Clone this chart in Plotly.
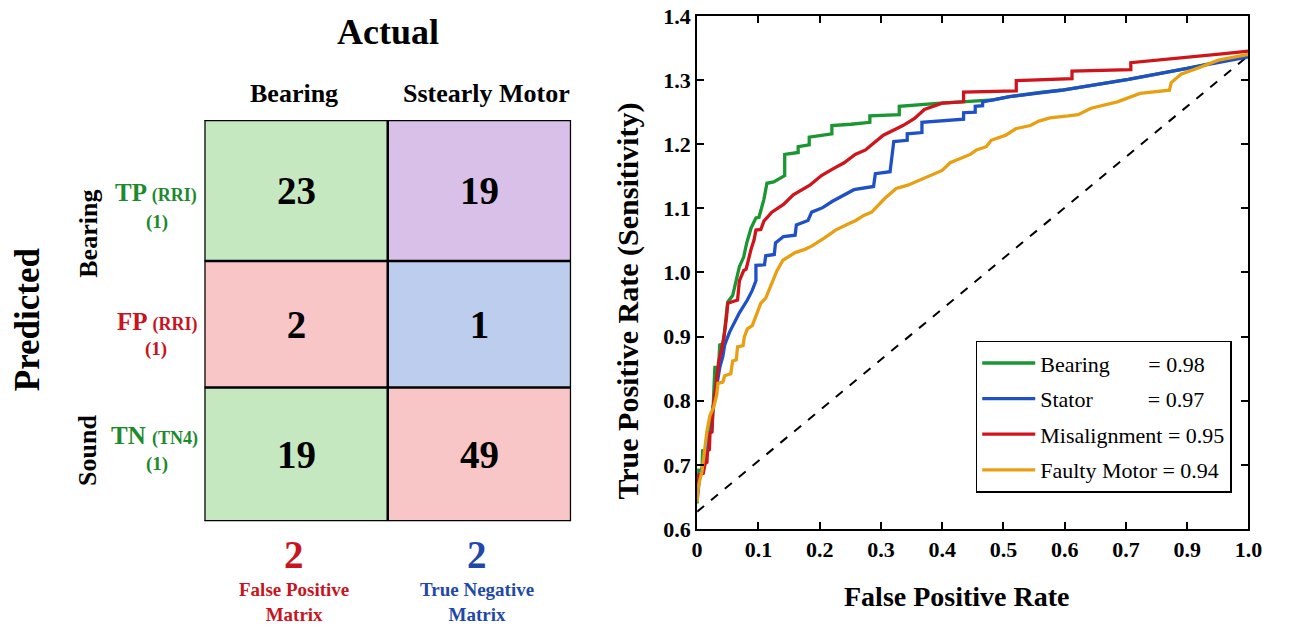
import plotly.graph_objects as go

# ---------------- data ----------------
# Confusion matrix (rows: predicted, cols: actual)
actual_labels = ["Bearing", "Sstearly Motor"]
row_labels = ["Bearing", "Sound"]
cell_counts = [[23, 19], [2, 1], [19, 49]]
cell_kind = [[0, 1], [2, 3], [0, 2]]   # 0 green, 1 purple, 2 pink, 3 blue
bottom_numbers = ["2", "2"]
bottom_captions = ["False Positive<br>Matrix", "True Negative<br>Matrix"]

# ROC curves (x in tick-position units: ticks 0..0.9 labelled 0..0.7,0.9,1.0)
x_ticktext = ["0", "0.1", "0.2", "0.3", "0.4", "0.5", "0.6", "0.7", "0.9", "1.0"]
x_tickvals = [0.0, 0.1, 0.2, 0.3, 0.4, 0.5, 0.6, 0.7, 0.8, 0.9]
y_tickvals = [0.6, 0.7, 0.8, 0.9, 1.0, 1.1, 1.2, 1.3, 1.4]

bearing_x = [0, 0.001, 0.008, 0.009, 0.015, 0.019, 0.026, 0.029, 0.035, 0.037, 0.042, 0.044,
             0.048, 0.050, 0.058, 0.064, 0.069, 0.076, 0.081, 0.088, 0.096, 0.101, 0.109, 0.114,
             0.125, 0.143, 0.143, 0.165, 0.165, 0.183, 0.183, 0.220, 0.220, 0.251, 0.282, 0.282,
             0.330, 0.330, 0.398, 0.484, 0.510, 0.563, 0.594, 0.704, 0.800, 0.900]
bearing_y = [0.640, 0.692, 0.692, 0.722, 0.724, 0.752, 0.787, 0.852, 0.852, 0.887, 0.889, 0.902,
             0.937, 0.954, 0.964, 0.987, 1.009, 1.024, 1.046, 1.069, 1.085, 1.086, 1.114, 1.139,
             1.141, 1.151, 1.184, 1.187, 1.196, 1.199, 1.211, 1.216, 1.229, 1.231, 1.234, 1.244,
             1.246, 1.259, 1.264, 1.269, 1.274, 1.281, 1.284, 1.301, 1.318, 1.338]

stator_x = [0, 0.004, 0.010, 0.016, 0.020, 0.024, 0.026, 0.032, 0.037, 0.042, 0.045, 0.053,
            0.061, 0.069, 0.082, 0.090, 0.096, 0.096, 0.110, 0.112, 0.126, 0.128, 0.141, 0.160,
            0.162, 0.181, 0.187, 0.205, 0.221, 0.240, 0.256, 0.288, 0.291, 0.315, 0.321, 0.343,
            0.343, 0.367, 0.367, 0.435, 0.435, 0.454, 0.454, 0.466, 0.466, 0.510, 0.563, 0.594,
            0.704, 0.800, 0.900]
stator_y = [0.645, 0.680, 0.700, 0.720, 0.750, 0.752, 0.789, 0.822, 0.852, 0.869, 0.887, 0.907,
            0.922, 0.937, 0.957, 0.972, 0.987, 1.011, 1.012, 1.026, 1.028, 1.046, 1.056, 1.058,
            1.074, 1.081, 1.094, 1.101, 1.111, 1.121, 1.129, 1.134, 1.154, 1.157, 1.204, 1.206,
            1.216, 1.218, 1.234, 1.239, 1.249, 1.250, 1.259, 1.260, 1.266, 1.274, 1.281, 1.284,
            1.301, 1.318, 1.336]

misalign_x = [0, 0.002, 0.010, 0.013, 0.016, 0.017, 0.020, 0.021, 0.024, 0.026, 0.030, 0.035,
              0.040, 0.044, 0.048, 0.050, 0.066, 0.069, 0.076, 0.080, 0.088, 0.093, 0.096, 0.104,
              0.109, 0.114, 0.122, 0.141, 0.157, 0.184, 0.203, 0.221, 0.240, 0.258, 0.275, 0.285,
              0.304, 0.336, 0.355, 0.371, 0.400, 0.435, 0.435, 0.521, 0.521, 0.612, 0.612, 0.708,
              0.708, 0.861, 0.900]
misalign_y = [0.650, 0.684, 0.687, 0.702, 0.704, 0.722, 0.724, 0.749, 0.751, 0.789, 0.817, 0.860,
              0.880, 0.900, 0.930, 0.952, 0.957, 0.987, 1.003, 1.005, 1.036, 1.051, 1.066, 1.067,
              1.080, 1.086, 1.094, 1.106, 1.121, 1.136, 1.151, 1.161, 1.171, 1.184, 1.191, 1.199,
              1.214, 1.229, 1.240, 1.254, 1.264, 1.266, 1.281, 1.283, 1.299, 1.302, 1.314, 1.316,
              1.327, 1.341, 1.345]

faulty_x = [0, 0.002, 0.008, 0.012, 0.016, 0.021, 0.027, 0.032, 0.034, 0.042, 0.045, 0.055,
            0.058, 0.064, 0.066, 0.075, 0.077, 0.082, 0.090, 0.098, 0.104, 0.112, 0.118, 0.124,
            0.130, 0.140, 0.160, 0.176, 0.187, 0.208, 0.226, 0.243, 0.259, 0.272, 0.285, 0.307,
            0.325, 0.344, 0.368, 0.400, 0.413, 0.446, 0.456, 0.472, 0.480, 0.504, 0.520, 0.544,
            0.558, 0.576, 0.606, 0.622, 0.643, 0.686, 0.723, 0.771, 0.774, 0.790, 0.819, 0.851,
            0.900]
faulty_y = [0.642, 0.667, 0.690, 0.720, 0.752, 0.777, 0.790, 0.809, 0.827, 0.829, 0.839, 0.842,
            0.862, 0.864, 0.884, 0.886, 0.899, 0.912, 0.917, 0.937, 0.952, 0.960, 0.975, 0.990,
            1.002, 1.019, 1.031, 1.036, 1.041, 1.054, 1.066, 1.074, 1.081, 1.089, 1.094, 1.116,
            1.131, 1.136, 1.146, 1.159, 1.171, 1.184, 1.191, 1.196, 1.206, 1.214, 1.224, 1.229,
            1.236, 1.241, 1.244, 1.246, 1.256, 1.266, 1.279, 1.284, 1.296, 1.309, 1.319, 1.331,
            1.340]

diag_x = [0.0, 0.9]
diag_y = [0.627, 1.338]

series_names = ["Bearing", "Stator", "Misalignment", "Faulty Motor"]
series_auc = ["0.98", "0.97", "0.95", "0.94"]

# ---------------- style ----------------
W, H = 1290, 642
SERIF = "Liberation Serif"
C_GREEN_TXT = "#1e8a2e"
C_RED_TXT = "#c8141e"
C_BLUE_TXT = "#1f48a8"
CELL_COLORS = ["#c6e8c0", "#d9c0e8", "#f8c6c6", "#bccdee"]
LINE_COLORS = ["#1a9632", "#1f50c8", "#d0141c", "#e8a012"]
NBSP = "\u00a0"
name_pad = [7, 10, 1, 1]

def px(x):
    return x / W

def py(y):
    return 1 - y / H

ROW_EDGES = [0, 1.054, 2.0, 3.0]
COL_EDGES = [0, 1, 2]

fig = go.Figure()

# ---------------- confusion matrix ----------------
fig.add_trace(go.Heatmap(
    z=cell_kind, x=COL_EDGES, y=ROW_EDGES,
    text=cell_counts, texttemplate="<b>%{text}</b>",
    textfont=dict(family=SERIF, size=39, color="black"),
    colorscale=[[0, CELL_COLORS[0]], [1 / 3, CELL_COLORS[1]], [2 / 3, CELL_COLORS[2]], [1, CELL_COLORS[3]]],
    zmin=0, zmax=3, showscale=False, hoverinfo="skip",
    xaxis="x2", yaxis="y2",
))

shapes = []
for xe in COL_EDGES:
    shapes.append(dict(type="line", xref="x2", yref="y2", x0=xe, x1=xe, y0=ROW_EDGES[0], y1=ROW_EDGES[-1],
                       line=dict(color="black", width=2.5)))
for ye in ROW_EDGES:
    shapes.append(dict(type="line", xref="x2", yref="y2", x0=COL_EDGES[0], x1=COL_EDGES[-1], y0=ye, y1=ye,
                       line=dict(color="black", width=2.5)))

# ---------------- ROC curves ----------------
fig.add_trace(go.Scatter(x=diag_x, y=diag_y, mode="lines", showlegend=False,
                         line=dict(color="black", width=2, dash="dash"), hoverinfo="skip"))
curves = [(bearing_x, bearing_y), (stator_x, stator_y), (misalign_x, misalign_y), (faulty_x, faulty_y)]
for i, (cx, cy) in enumerate(curves):
    label = series_names[i] + NBSP * name_pad[i] + "= " + series_auc[i]
    fig.add_trace(go.Scatter(x=cx, y=cy, mode="lines", name=label, legendgroup=f"g{i}",
                             line=dict(color=LINE_COLORS[i], width=3.3)))

# ---------------- annotations ----------------
ann = []

def add_text(text, x, y, size, color="black", bold=True, angle=0, xanchor="center"):
    t = f"<b>{text}</b>" if bold else text
    ann.append(dict(text=t, x=px(x), y=py(y), xref="paper", yref="paper", showarrow=False,
                    xanchor=xanchor, yanchor="middle", textangle=angle,
                    font=dict(family=SERIF, size=size, color=color)))

add_text("Actual", 388, 21, 36)
add_text(actual_labels[0], 293, 85, 26)
add_text(actual_labels[1], 488, 85, 26)
add_text("Predicted", 22, 320, 35, angle=-90)
add_text(row_labels[0], 83, 231, 26, angle=-90)
add_text(row_labels[1], 83, 456, 26, angle=-90)

small = "<span style='font-size:18px'>"
add_text(f"TP {small}(RRI)</span>", 196, 188, 25, color=C_GREEN_TXT, xanchor="right")
add_text("(1)", 153, 218, 19, color=C_GREEN_TXT)
add_text(f"FP {small}(RRI)</span>", 196, 322, 25, color=C_RED_TXT, xanchor="right")
add_text("(1)", 152, 351, 19, color=C_RED_TXT)
add_text(f"TN {small}(TN4)</span>", 197, 441, 25, color=C_GREEN_TXT, xanchor="right")
add_text("(1)", 153, 470, 19, color=C_GREEN_TXT)

bottom_colors = [C_RED_TXT, C_BLUE_TXT]
bottom_x = [293, 478]
for i in range(2):
    add_text(bottom_numbers[i], bottom_x[i], 565, 39, color=bottom_colors[i])
    ann.append(dict(text=f"<b>{bottom_captions[i]}</b>", x=px(bottom_x[i]), y=py(614), xref="paper",
                    yref="paper", showarrow=False, xanchor="center", yanchor="middle",
                    font=dict(family=SERIF, size=19, color=bottom_colors[i])))

add_text("True Positive Rate (Sensitivity)", 632, 301, 30, angle=-90)
add_text("False Positive Rate", 966, 608, 28)

# ---------------- layout ----------------
axis_common = dict(showgrid=False, zeroline=False, showline=True, linecolor="black", linewidth=2,
                   mirror="allticks", ticks="inside", ticklen=7, tickwidth=1.5, tickcolor="black",
                   ticklabeloverflow="allow",
                   tickfont=dict(family=SERIF, size=22, color="black", weight="bold"))

fig.update_layout(
    width=W, height=H, margin=dict(l=0, r=0, t=0, b=0),
    paper_bgcolor="white", plot_bgcolor="white",
    xaxis=dict(domain=[px(702), px(1262)], range=[0, 0.9], tickvals=x_tickvals, ticktext=x_ticktext,
               **axis_common),
    yaxis=dict(domain=[py(538), py(4)], range=[0.6, 1.4], tickvals=y_tickvals, tickformat=".1f",
               **axis_common),
    xaxis2=dict(domain=[px(201.5), px(574)], range=[0, 2], visible=False, anchor="y2"),
    yaxis2=dict(domain=[py(530), py(112.5)], range=[3, 0], visible=False, anchor="x2"),
    shapes=shapes,
    annotations=ann,
    showlegend=True,
    legend=dict(x=px(985), y=py(342), xanchor="left", yanchor="top",
                bgcolor="white", bordercolor="black", borderwidth=1.5,
                font=dict(family=SERIF, size=22, color="black"),
                traceorder="grouped", tracegroupgap=4, itemwidth=53),
)

fig.write_html("out.html", config={"displayModeBar": False},
               post_script="document.body.style.margin='0';")
